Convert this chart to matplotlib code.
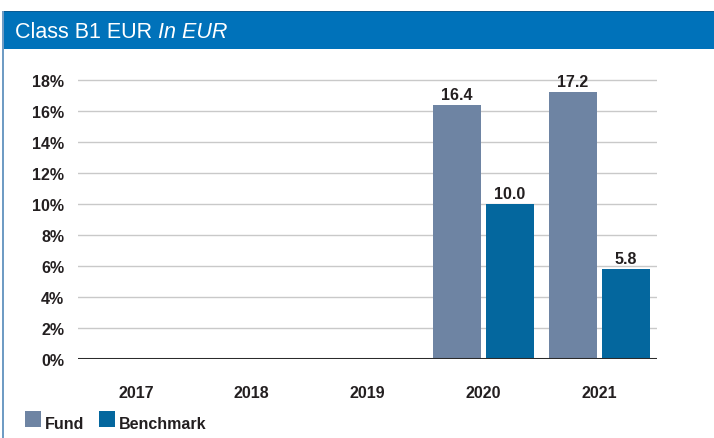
import matplotlib
matplotlib.use("Agg")
import matplotlib.pyplot as plt
from matplotlib.patches import Rectangle
import numpy as np

years = ["2017", "2018", "2019", "2020", "2021"]
fund = [np.nan, np.nan, np.nan, 16.4, 17.2]
benchmark = [np.nan, np.nan, np.nan, 10.0, 5.8]
y_ticks = [0, 2, 4, 6, 8, 10, 12, 14, 16, 18]
title_main = "Class B1 EUR "
title_italic = "In EUR"
legend_labels = ["Fund", "Benchmark"]

FUND_C = "#6E84A3"
BENCH_C = "#04679E"
HEAD_C = "#0072BA"
TXT_C = "#231F20"
FS = 11.5

plt.rcParams['font.family'] = ['Liberation Sans', 'DejaVu Sans']

W, H = 714, 439
fig = plt.figure(figsize=(W / 100, H / 100), dpi=100)

def fx(px):
    return px / W

def fy(py):
    return 1 - py / H

# header band
fig.patches.append(Rectangle((fx(2), fy(50)), fx(712), (50 - 12) / H,
                             transform=fig.transFigure, facecolor=HEAD_C,
                             edgecolor='none', zorder=0))
fig.patches.append(Rectangle((fx(2), fy(13)), fx(712), 1.5 / H,
                             transform=fig.transFigure, facecolor="#0B5C94",
                             edgecolor='none', zorder=1))
# left border
fig.patches.append(Rectangle((fx(2), 0), 1.5 / W, fy(12),
                             transform=fig.transFigure, facecolor="#6F9CC4",
                             edgecolor='none', zorder=1))

t1 = fig.text(fx(15), fy(32), title_main, color='white', fontsize=15.5,
              va='center', ha='left')
fig.canvas.draw()
bb = t1.get_window_extent()
fig.text(bb.x1 / W, fy(32), title_italic, color='white', fontsize=15.5,
         va='center', ha='left', style='italic')

# axes: x from 78 to 657, y 0% at 360, 18% at 81
ax_left, ax_right = 78, 657
y0_px, y18_px = 360, 81
ymax = 18.6
px_per = (y0_px - y18_px) / 18
top_px = y0_px - ymax * px_per
ax = fig.add_axes([fx(ax_left), fy(y0_px), (ax_right - ax_left) / W,
                   (y0_px - top_px) / H])
ax.set_xlim(-0.5, 4.5)
ax.set_ylim(0, ymax)

x = np.arange(len(years))
bw = 48 / 116
off = 26.5 / 116
ax.bar(x - off, fund, width=bw, color=FUND_C, zorder=3)
ax.bar(x + off, benchmark, width=bw, color=BENCH_C, zorder=3)

for xi, v in zip(x, fund):
    if not np.isnan(v):
        ax.text(xi - off, v + 0.2, f"{v:.1f}", ha='center', va='bottom',
                fontsize=FS, fontweight='bold', color=TXT_C)
for xi, v in zip(x, benchmark):
    if not np.isnan(v):
        ax.text(xi + off, v + 0.2, f"{v:.1f}", ha='center', va='bottom',
                fontsize=FS, fontweight='bold', color=TXT_C)

for t in y_ticks[1:]:
    ax.axhline(t, color="#C9C9C9", lw=1.0, zorder=1)
ax.axhline(0, color="#2B2B2B", lw=2.2, zorder=4)

for s in ax.spines.values():
    s.set_visible(False)
ax.set_yticks(y_ticks)
ax.set_yticklabels([f"{t}%" for t in y_ticks], fontsize=FS,
                   fontweight='bold', color=TXT_C)
ax.tick_params(axis='y', length=0, pad=10)
ax.set_xticks(x)
ax.set_xticklabels(years, fontsize=FS, fontweight='bold', color=TXT_C)
ax.tick_params(axis='x', length=0, pad=19)
ax.patch.set_alpha(0)

# legend
fig.patches.append(Rectangle((fx(25), fy(428)), 16 / W, 16 / H,
                             transform=fig.transFigure, facecolor=FUND_C,
                             edgecolor='none'))
fig.text(fx(45), fy(425), legend_labels[0], fontsize=FS, fontweight='bold',
         color=TXT_C, ha='left', va='center')
fig.patches.append(Rectangle((fx(99), fy(428)), 16 / W, 16 / H,
                             transform=fig.transFigure, facecolor=BENCH_C,
                             edgecolor='none'))
fig.text(fx(119), fy(425), legend_labels[1], fontsize=FS, fontweight='bold',
         color=TXT_C, ha='left', va='center')

fig.savefig("out.png", dpi=100)
